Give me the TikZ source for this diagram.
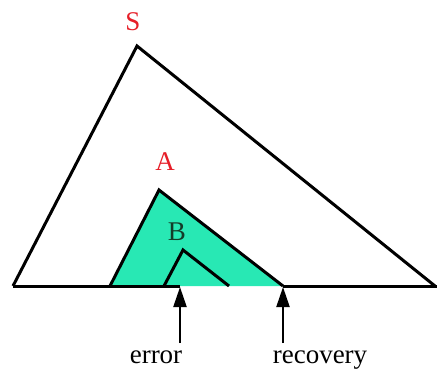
\documentclass[tikz,border=0pt]{standalone}
\usepackage{fontspec}
\setmainfont{Liberation Serif}
\usetikzlibrary{arrows.meta}
\definecolor{tcyan}{RGB}{40,232,180}
\definecolor{tred}{RGB}{230,30,40}
\definecolor{tdark}{RGB}{20,60,40}
\tikzset{
  edge/.style={line width=3pt, line join=miter, line cap=butt},
  lbl/.style={font=\fontsize{27}{32}\selectfont, inner sep=0pt},
  ptr/.style={line width=2.2pt, -{Triangle[length=20pt,width=13pt]}},
}
\begin{document}
\begin{tikzpicture}[x=1pt,y=-1pt]
\useasboundingbox (0,0) rectangle (437,370);
% vertices
\coordinate (S) at (137,46);
\coordinate (SL) at (13,286);
\coordinate (SR) at (435,286);
\coordinate (E) at (437,286);
\coordinate (A) at (159,190);
\coordinate (AL) at (110,286);
\coordinate (AR) at (283,286);
\coordinate (B) at (183,250);
\coordinate (BL) at (164,286);
\coordinate (BR) at (229,286);
\coordinate (err) at (180,286);
\coordinate (errT) at (180,343);
\coordinate (recT) at (283,343);
% fill
\fill[tcyan] (AL) -- (A) -- (AR) -- cycle;
% lines
\draw[edge] (SL) -- (S) -- (SR);
\draw[edge] (SL) -- (err);
\draw[edge] (AR) -- (E);
\draw[edge] (AL) -- (A) -- (AR);
\draw[edge] (BL) -- (B) -- (BR);
% arrows
\draw[ptr] (errT) -- ([yshift=-1pt]err);
\draw[ptr] (recT) -- ([yshift=-1pt]AR);
% labels
\node[lbl, text=tred] (sl) at (133,22) {S};
\node[lbl, text=tred] (al) at (165,162) {A};
\node[lbl, text=tdark] (bl) at (177,232) {B};
\node[lbl, anchor=base] (el) at (156,363) {error};
\node[lbl, anchor=base] (rl) at (320,363) {recovery};
\end{tikzpicture}
\end{document}
